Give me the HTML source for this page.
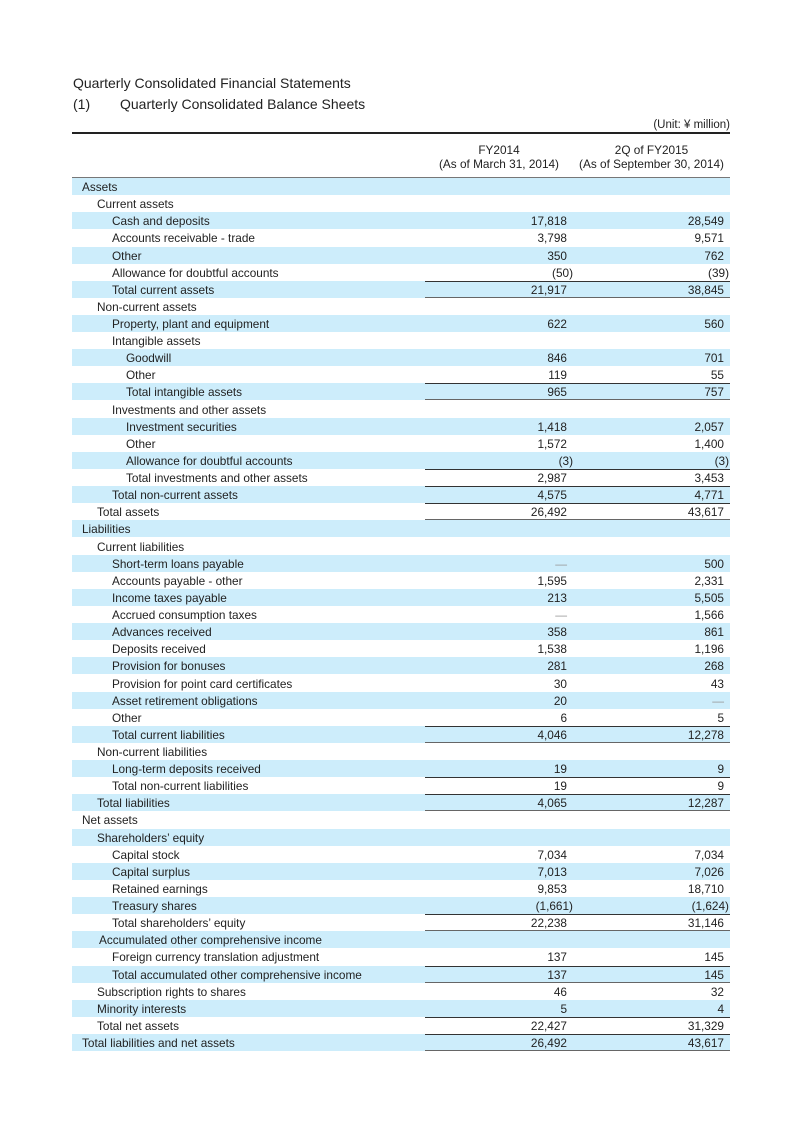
<!DOCTYPE html>
<html><head><meta charset="utf-8"><style>
body{margin:0;width:800px;height:1131px;background:#fff;position:relative;font-family:"Liberation Sans",Arial,sans-serif;color:#222;}
.t{position:absolute;white-space:nowrap;}
.r{position:absolute;left:72px;width:658px;height:17.1px;line-height:18px;font-size:11.8px;}
.s{background:#cdedfb;}
.l{position:absolute;top:0;white-space:nowrap;}
.l0{left:10px}.l1{left:25px}.l2{left:40px}.l3{left:54px}.la{left:27px}
.v{position:absolute;left:353px;width:305px;top:0;height:17.1px;box-sizing:border-box;}
.bt{border-top:1px solid #333;}
.bb{border-bottom:1.5px solid #666;}
.a,.b{position:absolute;top:0;}
.a{right:163px}.b{right:6px}
.a.p{right:157px}.b.p{right:1px}
.v.bt .a,.v.bt .b{top:-1px}
</style></head><body>
<div class="t" style="left:73px;top:75px;font-size:14px;">Quarterly Consolidated Financial Statements</div>
<div class="t" style="left:73px;top:96px;font-size:14px;">(1)</div>
<div class="t" style="left:120px;top:96px;font-size:14px;">Quarterly Consolidated Balance Sheets</div>
<div class="t" style="right:70px;top:119px;font-size:11.5px;">(Unit: ¥ million)</div>
<div style="position:absolute;left:72px;top:132px;width:658px;height:2px;background:#222;"></div>
<div class="t" style="left:425px;width:148px;text-align:center;top:143px;font-size:11.8px;line-height:14px;">FY2014<br>(As of March 31, 2014)</div>
<div class="t" style="left:573px;width:157px;text-align:center;top:143px;font-size:11.8px;line-height:14px;">2Q of FY2015<br>(As of September 30, 2014)</div>
<div style="position:absolute;left:72px;top:177px;width:658px;height:1.5px;background:#777;"></div>

<div class="r s" style="top:178px"><span class="l l0">Assets</span></div>
<div class="r" style="top:195.1px"><span class="l l1">Current assets</span></div>
<div class="r s" style="top:212.2px"><span class="l l2">Cash and deposits</span><div class="v"><span class="a">17,818</span><span class="b">28,549</span></div></div>
<div class="r" style="top:229.4px"><span class="l l2">Accounts receivable - trade</span><div class="v"><span class="a">3,798</span><span class="b">9,571</span></div></div>
<div class="r s" style="top:246.5px"><span class="l l2">Other</span><div class="v"><span class="a">350</span><span class="b">762</span></div></div>
<div class="r" style="top:263.6px"><span class="l l2">Allowance for doubtful accounts</span><div class="v"><span class="a p">(50)</span><span class="b p">(39)</span></div></div>
<div class="r s" style="top:280.7px"><span class="l l2">Total current assets</span><div class="v bt bb"><span class="a">21,917</span><span class="b">38,845</span></div></div>
<div class="r" style="top:297.8px"><span class="l l1">Non-current assets</span></div>
<div class="r s" style="top:315px"><span class="l l2">Property, plant and equipment</span><div class="v"><span class="a">622</span><span class="b">560</span></div></div>
<div class="r" style="top:332.1px"><span class="l l2">Intangible assets</span></div>
<div class="r s" style="top:349.2px"><span class="l l3">Goodwill</span><div class="v"><span class="a">846</span><span class="b">701</span></div></div>
<div class="r" style="top:366.3px"><span class="l l3">Other</span><div class="v"><span class="a">119</span><span class="b">55</span></div></div>
<div class="r s" style="top:383.4px"><span class="l l3">Total intangible assets</span><div class="v bt bb"><span class="a">965</span><span class="b">757</span></div></div>
<div class="r" style="top:400.6px"><span class="l l2">Investments and other assets</span></div>
<div class="r s" style="top:417.7px"><span class="l l3">Investment securities</span><div class="v"><span class="a">1,418</span><span class="b">2,057</span></div></div>
<div class="r" style="top:434.8px"><span class="l l3">Other</span><div class="v"><span class="a">1,572</span><span class="b">1,400</span></div></div>
<div class="r s" style="top:451.9px"><span class="l l3">Allowance for doubtful accounts</span><div class="v"><span class="a p">(3)</span><span class="b p">(3)</span></div></div>
<div class="r" style="top:469px"><span class="l l3">Total investments and other assets</span><div class="v bt"><span class="a">2,987</span><span class="b">3,453</span></div></div>
<div class="r s" style="top:486.2px"><span class="l l2">Total non-current assets</span><div class="v bt"><span class="a">4,575</span><span class="b">4,771</span></div></div>
<div class="r" style="top:503.3px"><span class="l l1">Total assets</span><div class="v bt bb"><span class="a">26,492</span><span class="b">43,617</span></div></div>
<div class="r s" style="top:520.4px"><span class="l l0">Liabilities</span></div>
<div class="r" style="top:537.5px"><span class="l l1">Current liabilities</span></div>
<div class="r s" style="top:554.6px"><span class="l l2">Short-term loans payable</span><div class="v"><span class="a" style="color:#999">—</span><span class="b">500</span></div></div>
<div class="r" style="top:571.8px"><span class="l l2">Accounts payable - other</span><div class="v"><span class="a">1,595</span><span class="b">2,331</span></div></div>
<div class="r s" style="top:588.9px"><span class="l l2">Income taxes payable</span><div class="v"><span class="a">213</span><span class="b">5,505</span></div></div>
<div class="r" style="top:606px"><span class="l l2">Accrued consumption taxes</span><div class="v"><span class="a" style="color:#999">—</span><span class="b">1,566</span></div></div>
<div class="r s" style="top:623.1px"><span class="l l2">Advances received</span><div class="v"><span class="a">358</span><span class="b">861</span></div></div>
<div class="r" style="top:640.2px"><span class="l l2">Deposits received</span><div class="v"><span class="a">1,538</span><span class="b">1,196</span></div></div>
<div class="r s" style="top:657.4px"><span class="l l2">Provision for bonuses</span><div class="v"><span class="a">281</span><span class="b">268</span></div></div>
<div class="r" style="top:674.5px"><span class="l l2">Provision for point card certificates</span><div class="v"><span class="a">30</span><span class="b">43</span></div></div>
<div class="r s" style="top:691.6px"><span class="l l2">Asset retirement obligations</span><div class="v"><span class="a">20</span><span class="b" style="color:#999">—</span></div></div>
<div class="r" style="top:708.7px"><span class="l l2">Other</span><div class="v"><span class="a">6</span><span class="b">5</span></div></div>
<div class="r s" style="top:725.8px"><span class="l l2">Total current liabilities</span><div class="v bt bb"><span class="a">4,046</span><span class="b">12,278</span></div></div>
<div class="r" style="top:743px"><span class="l l1">Non-current liabilities</span></div>
<div class="r s" style="top:760.1px"><span class="l l2">Long-term deposits received</span><div class="v"><span class="a">19</span><span class="b">9</span></div></div>
<div class="r" style="top:777.2px"><span class="l l2">Total non-current liabilities</span><div class="v bt"><span class="a">19</span><span class="b">9</span></div></div>
<div class="r s" style="top:794.3px"><span class="l l1">Total liabilities</span><div class="v bt bb"><span class="a">4,065</span><span class="b">12,287</span></div></div>
<div class="r" style="top:811.4px"><span class="l l0">Net assets</span></div>
<div class="r s" style="top:828.6px"><span class="l l1">Shareholders’ equity</span></div>
<div class="r" style="top:845.7px"><span class="l l2">Capital stock</span><div class="v"><span class="a">7,034</span><span class="b">7,034</span></div></div>
<div class="r s" style="top:862.8px"><span class="l l2">Capital surplus</span><div class="v"><span class="a">7,013</span><span class="b">7,026</span></div></div>
<div class="r" style="top:879.9px"><span class="l l2">Retained earnings</span><div class="v"><span class="a">9,853</span><span class="b">18,710</span></div></div>
<div class="r s" style="top:897px"><span class="l l2">Treasury shares</span><div class="v"><span class="a p">(1,661)</span><span class="b p">(1,624)</span></div></div>
<div class="r" style="top:914.2px"><span class="l l2">Total shareholders’ equity</span><div class="v bt bb"><span class="a">22,238</span><span class="b">31,146</span></div></div>
<div class="r s" style="top:931.3px"><span class="l la">Accumulated other comprehensive income</span></div>
<div class="r" style="top:948.4px"><span class="l l2">Foreign currency translation adjustment</span><div class="v"><span class="a">137</span><span class="b">145</span></div></div>
<div class="r s" style="top:965.5px"><span class="l l2">Total accumulated other comprehensive income</span><div class="v bt bb"><span class="a">137</span><span class="b">145</span></div></div>
<div class="r" style="top:982.6px"><span class="l l1">Subscription rights to shares</span><div class="v"><span class="a">46</span><span class="b">32</span></div></div>
<div class="r s" style="top:999.8px"><span class="l l1">Minority interests</span><div class="v"><span class="a">5</span><span class="b">4</span></div></div>
<div class="r" style="top:1016.9px"><span class="l l1">Total net assets</span><div class="v bt"><span class="a">22,427</span><span class="b">31,329</span></div></div>
<div class="r s" style="top:1034px"><span class="l l0">Total liabilities and net assets</span><div class="v bt bb"><span class="a">26,492</span><span class="b">43,617</span></div></div>
</body></html>
